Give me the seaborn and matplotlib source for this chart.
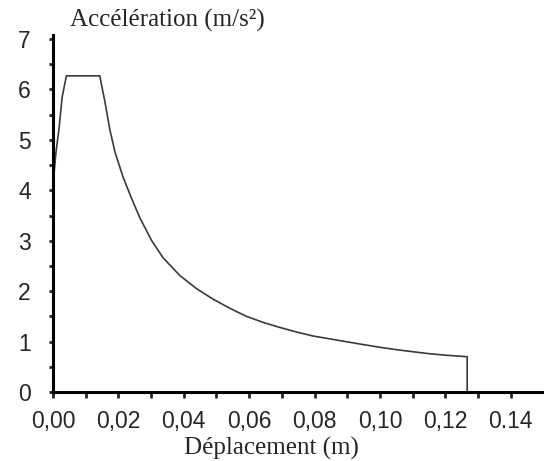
import numpy as np
import pandas as pd
import seaborn as sns
import matplotlib.pyplot as plt

# displacement (m) and acceleration (m/s2)
deplacement = [0.0, 0.0009, 0.0018, 0.0028, 0.0041, 0.0143, 0.0159, 0.0174,
               0.0190, 0.0215, 0.0241, 0.0266, 0.0302, 0.0337, 0.0388, 0.0439,
               0.0490, 0.0541, 0.0592, 0.0643, 0.0694, 0.0745, 0.0796, 0.0868,
               0.0940, 0.0997, 0.1050, 0.1099, 0.1150, 0.1200, 0.1267, 0.1267]
acceleration = [4.1, 4.75, 5.2, 5.85, 6.27, 6.27, 5.75, 5.20,
                4.75, 4.25, 3.83, 3.45, 3.00, 2.66, 2.31, 2.05,
                1.84, 1.66, 1.50, 1.38, 1.28, 1.19, 1.11, 1.03,
                0.95, 0.89, 0.84, 0.80, 0.76, 0.73, 0.70, 0.0]

x_ticks = [0.00, 0.02, 0.04, 0.06, 0.08, 0.10, 0.12, 0.14]
x_tick_labels = ["0,00", "0,02", "0,04", "0,06", "0,08", "0,10", "0,12", "0.14"]
y_ticks = [0, 1, 2, 3, 4, 5, 6, 7]

df = pd.DataFrame({"x": deplacement, "y": acceleration})

sns.set_style("ticks")
plt.rcParams["font.family"] = ["Liberation Sans", "DejaVu Sans"]

fig = plt.figure(figsize=(5.44, 4.61), dpi=100)
ax = fig.add_axes([53 / 544, 69 / 461, 491 / 544, 357 / 461])

sns.lineplot(data=df, x="x", y="y", sort=False, estimator=None,
             color="#3a3a3a", linewidth=1.2, ax=ax)

ax.set_xlim(0, 0.1502)
ax.set_ylim(0, 7.08)

ax.set_xticks(x_ticks)
ax.set_xticklabels(x_tick_labels)
ax.set_xticks(np.arange(0.01, 0.15, 0.02), minor=True)
ax.set_yticks(y_ticks)
ax.set_yticks(np.arange(0.5, 7, 1.0), minor=True)

# thick black axes, small outward ticks
for side in ["top", "right"]:
    ax.spines[side].set_visible(False)
for side in ["left", "bottom"]:
    ax.spines[side].set_linewidth(2.2)
    ax.spines[side].set_color("black")

ax.tick_params(axis="x", which="major", direction="out", length=4, width=2,
               labelsize=16.5, pad=9)
ax.tick_params(axis="x", which="minor", direction="out", length=4, width=2)
ax.tick_params(axis="y", which="major", direction="out", length=3, width=2,
               labelsize=16.5, pad=13)
ax.tick_params(axis="y", which="minor", direction="out", length=3, width=2)

ax.set_xlabel("")
ax.set_ylabel("")
ax.grid(False)

# serif axis captions
fig.text(70 / 544, 1 - 27 / 461, "Accélération (m/s²)", family="Liberation Serif",
         fontsize=18, ha="left", va="baseline")
fig.text(271 / 544, 1 - 455 / 461, "Déplacement (m)", family="Liberation Serif",
         fontsize=18, ha="center", va="baseline")

fig.savefig("out.png", dpi=100)
